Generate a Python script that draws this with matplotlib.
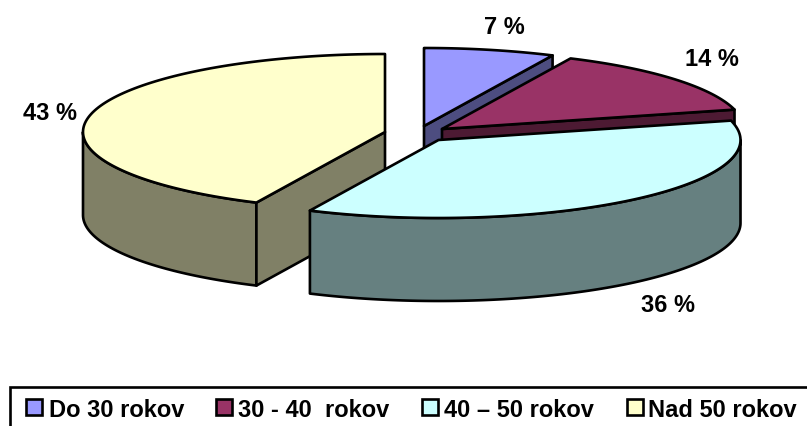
import numpy as np
import matplotlib
matplotlib.use("Agg")
import matplotlib.pyplot as plt
from matplotlib.patches import Polygon, Rectangle

plt.rcParams["font.family"] = ["Liberation Sans", "DejaVu Sans"]

# chart data
shares = [7, 14, 36, 43]
value_labels = ["7 %", "14 %", "36 %", "43 %"]
legend_labels = ["Do 30 rokov", "30 - 40  rokov", "40 \u2013 50 rokov", "Nad 50 rokov"]

# styling, one entry per slice
top_colors = ["#9999ff", "#993366", "#ccffff", "#ffffcc"]
side_colors = ["#4d4d80", "#4d1a33", "#668080", "#808066"]
apex_x = [424, 442, 438.5, 385]
apex_y = [127, 130, 141, 133]
label_pos = [(504, 28), (712, 60), (668, 305.5), (50, 113)]
legend_x = [25, 215, 421, 626]
legend_text_x = [49, 238, 443.5, 648]

RX, RY = 302, 78
DEPTH = 83
LW = 1.9
FS = 17


def rim(cx, cy, t0, t1):
    """Points on the ellipse, t in degrees clockwise from 12 o'clock."""
    t = np.radians(np.linspace(t0, t1, 120))
    return np.column_stack([cx + RX * np.sin(t), cy - RY * np.cos(t)])


def add_poly(ax, pts, color, z):
    ax.add_patch(Polygon(pts, closed=True, facecolor=color, edgecolor="black",
                         linewidth=LW, joinstyle="round", zorder=z))


fig = plt.figure(figsize=(8.07, 4.27), dpi=100)
ax = fig.add_axes([0, 0, 1, 1])
ax.set_xlim(0, 807)
ax.set_ylim(427, 0)
ax.axis("off")

edges = np.cumsum([0] + shares) / sum(shares) * 360
# paint back to front: blue, purple, yellow, then the exploded cyan slice
for z, i in enumerate([0, 1, 3, 2]):
    cx, cy = apex_x[i], apex_y[i]
    t0, t1 = edges[i], edges[i + 1]
    apex = np.array([cx, cy])
    down = np.array([0, DEPTH])
    base_z = z * 3 + 1

    # outer wall, only the part facing the viewer (90..270 deg)
    lo, hi = max(t0, 90), min(t1, 270)
    if lo < hi:
        arc = rim(cx, cy, lo, hi)
        add_poly(ax, np.vstack([arc, (arc + down)[::-1]]), side_colors[i], base_z)

    # cut faces, drawn when they turn towards the viewer
    if i == 3:
        end = rim(cx, cy, t0, t0)[0]
    elif i == 2:
        end = None
    else:
        end = rim(cx, cy, t1, t1)[0]
    if end is not None:
        add_poly(ax, [apex, end, end + down, apex + down], side_colors[i], base_z)

    arc = rim(cx, cy, t0, t1)
    add_poly(ax, np.vstack([apex, arc]), top_colors[i], base_z + 1)

for (x, y), s in zip(label_pos, value_labels):
    ax.text(x, y, s, fontsize=FS, fontweight="bold", ha="center", va="center",
            color="black", zorder=30)

# legend frame runs off the right and bottom of the picture
ax.add_patch(Rectangle((9.5, 388), 830, 60, facecolor="white", edgecolor="black",
                       linewidth=LW, zorder=31, clip_on=True))
for x, tx, lab, col in zip(legend_x, legend_text_x, legend_labels, top_colors):
    ax.add_patch(Rectangle((x + 1, 400), 15.5, 15.5, facecolor=col, edgecolor="black",
                           linewidth=LW, zorder=32))
    ax.text(tx, 417, lab, fontsize=FS, fontweight="bold", ha="left",
            va="baseline", color="black", zorder=32)

fig.savefig("out.png", dpi=100)
